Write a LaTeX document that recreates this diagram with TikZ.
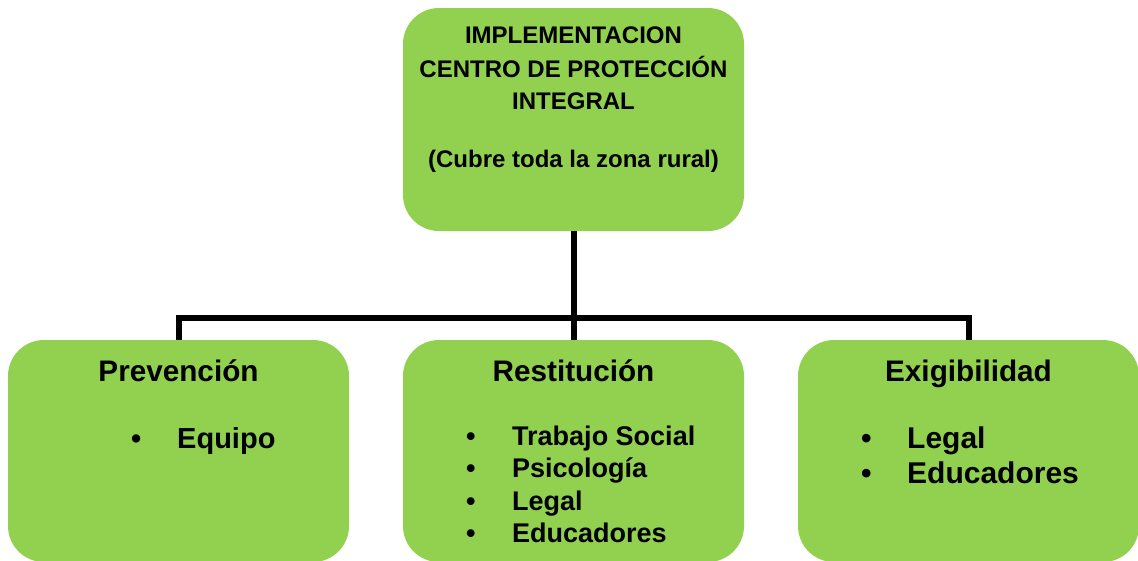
\documentclass[tikz,border=0pt]{standalone}
\usepackage{fontspec}
\setmainfont{Liberation Sans}
\definecolor{boxgreen}{HTML}{92D050}

\begin{document}
\begin{tikzpicture}[x=1pt, y=-1pt,
  box/.style={rectangle, rounded corners=36pt, fill=boxgreen, minimum width=341pt, minimum height=222pt, inner sep=0pt},
  headline/.style={anchor=base, inner sep=0pt, font=\fontsize{24}{28}\selectfont\bfseries},
  boxtitle/.style={anchor=base, inner sep=0pt, font=\fontsize{29.7}{34}\selectfont\bfseries},
  listitem/.style={anchor=base west, inner sep=0pt, font=\fontsize{#1}{#1}\selectfont\bfseries},
  wire/.style={line width=6pt, line join=miter}
]
\newcommand{\bul}{\makebox[46pt][l]{\textbullet}}

% Canvas
\useasboundingbox (0,0) rectangle (1138,560);

% Top box: the centre
\node[box, minimum height=223pt] (centro) at (573.5,119.5) {};
\node[headline] (h1) at (573.5,43) {IMPLEMENTACION};
\node[headline] (h2) at (573.5,77) {CENTRO DE PROTECCIÓN};
\node[headline] (h3) at (573.5,109.5) {INTEGRAL};
\node[headline] (h4) at (573.5,167) {(Cubre toda la zona rural)};

% Bottom boxes
\node[box] (prev) at (178.5,451) {};
\node[box] (rest) at (573.5,451) {};
\node[box] (exig) at (968.5,451) {};

% Titles
\node[boxtitle] (prevtitle) at (178.5,381) {Prevención};
\node[boxtitle] (resttitle) at (573.5,381) {Restitución};
\node[boxtitle] (exigtitle) at (968.5,381) {Exigibilidad};

% Lists
\node[listitem=29] (prev1) at (131,448) {\bul Equipo};

\node[listitem=27] (rest1) at (466,445) {\bul Trabajo Social};
\node[listitem=27] (rest2) at (466,477) {\bul Psicología};
\node[listitem=27] (rest3) at (466,510) {\bul Legal};
\node[listitem=27] (rest4) at (466,542) {\bul Educadores};

\node[listitem=30] (exig1) at (861,448) {\bul Legal};
\node[listitem=30] (exig2) at (861,483) {\bul Educadores};

% Wires
\coordinate (bus) at (573.5,318);
\draw[wire] (centro.south) -- (bus);
\draw[wire] (prev.north) |- (bus) -| (exig.north);
\draw[wire] (rest.north) -- (bus);

\end{tikzpicture}
\end{document}
